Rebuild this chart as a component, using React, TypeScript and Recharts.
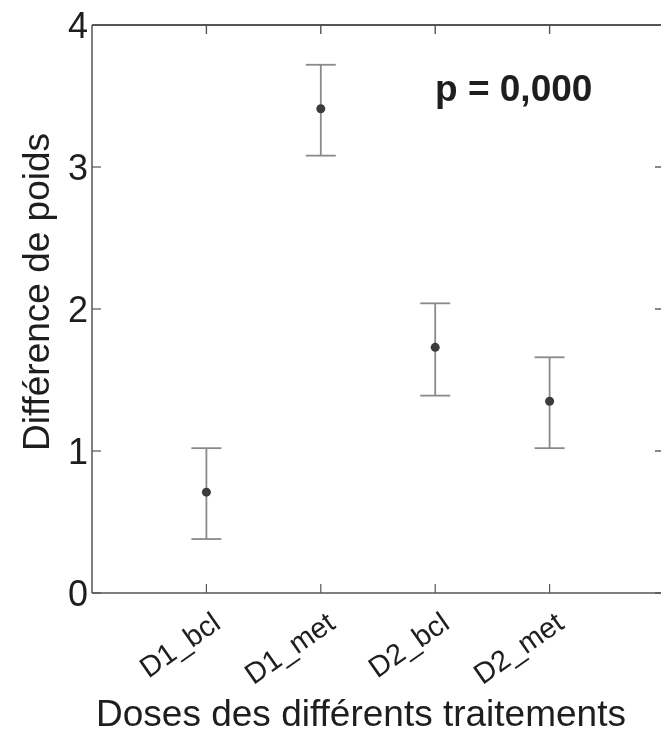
import {
  ScatterChart,
  Scatter,
  XAxis,
  YAxis,
  ErrorBar,
  ReferenceLine,
} from 'recharts';

// Doses des différents traitements
const categories = ['D1_bcl', 'D1_met', 'D2_bcl', 'D2_met'];
const means = [0.71, 3.41, 1.73, 1.35];
const lows = [0.38, 3.08, 1.39, 1.02];
const highs = [1.02, 3.72, 2.04, 1.66];
const yTicks = [0, 1, 2, 3, 4];
const xTicks = [1, 2, 3, 4];
const pLabel = 'p = 0,000';

const FONT = '"Liberation Sans", Arial, Helvetica, sans-serif';
const AXIS = '#555';
const TXT = '#1e1e1e';
const X_MAX = 5;
const Y_MAX = 4;
// inner tick lengths (about 9px) in data units
const TICK_Y = 9 / 142;
const TICK_X = 9 / 114;

const data = categories.map((c, i) => ({
  x: i + 1,
  name: c,
  y: means[i],
  err: [means[i] - lows[i], highs[i] - means[i]],
}));

function BottomTick(props: any) {
  const { x, y, payload } = props;
  const label = categories[payload.value - 1] ?? '';
  const ax = x + 16;
  const ay = y + 34;
  return (
    <g>
      <line x1={x} y1={y} x2={x} y2={y - 9} stroke={AXIS} strokeWidth={1.2} />
      <text
        x={ax}
        y={ay}
        textAnchor="end"
        fontSize={29}
        fontFamily={FONT}
        fill={TXT}
        transform={`rotate(-35, ${ax}, ${ay})`}
      >
        {label}
      </text>
    </g>
  );
}

function LeftTick(props: any) {
  const { x, y, payload } = props;
  return (
    <g>
      <line x1={x} y1={y} x2={x + 9} y2={y} stroke={AXIS} strokeWidth={1.2} />
      <text
        x={x - 4}
        y={y}
        dy="0.36em"
        textAnchor="end"
        fontSize={36}
        fontFamily={FONT}
        fill={TXT}
      >
        {payload.value}
      </text>
    </g>
  );
}

function Dot(props: any) {
  const { cx, cy } = props;
  return <circle cx={cx} cy={cy} r={4.5} fill="#3c3c3c" />;
}

export default function App() {
  return (
    <div
      style={{
        position: 'fixed',
        left: 0,
        top: 0,
        width: 661,
        height: 733,
        overflow: 'hidden',
      }}
    >
      <ScatterChart
        width={680}
        height={733}
        margin={{ top: 25, right: 16, bottom: 40, left: 32 }}
      >
        <XAxis
          type="number"
          dataKey="x"
          domain={[0, X_MAX]}
          ticks={xTicks}
          interval={0}
          height={100}
          stroke={AXIS}
          strokeWidth={1.5}
          tickLine={false}
          tickSize={0}
          tickMargin={0}
          tick={<BottomTick />}
          label={{
            content: ({ viewBox }: any) => (
              <text
                x={viewBox.x + 269}
                y={viewBox.y + 133}
                textAnchor="middle"
                fontSize={37}
                fontFamily={FONT}
                fill={TXT}
              >
                Doses des différents traitements
              </text>
            ),
          }}
        />
        <YAxis
          type="number"
          dataKey="y"
          domain={[0, Y_MAX]}
          ticks={yTicks}
          interval={0}
          width={60}
          stroke={AXIS}
          strokeWidth={1.5}
          tickLine={false}
          tickSize={0}
          tickMargin={0}
          tick={<LeftTick />}
          label={{
            content: ({ viewBox }: any) => {
              const lx = viewBox.x + 17;
              const ly = 292;
              return (
                <text
                  x={lx}
                  y={ly}
                  textAnchor="middle"
                  fontSize={37}
                  fontFamily={FONT}
                  fill={TXT}
                  transform={`rotate(-90, ${lx}, ${ly})`}
                >
                  Différence de poids
                </text>
              );
            },
          }}
        />
        {/* top frame line, carrying the p value */}
        <ReferenceLine
          y={Y_MAX}
          stroke={AXIS}
          strokeWidth={2}
          label={{
            content: ({ viewBox }: any) => (
              <text
                x={viewBox.x + 343}
                y={101}
                fontSize={37}
                fontWeight="bold"
                fontFamily={FONT}
                fill={TXT}
              >
                {pLabel}
              </text>
            ),
          }}
        />
        {/* right frame line */}
        <ReferenceLine x={X_MAX} stroke={AXIS} strokeWidth={2} />
        {/* inward ticks on the top frame */}
        {xTicks.map((t) => (
          <ReferenceLine
            key={`t${t}`}
            segment={[
              { x: t, y: Y_MAX },
              { x: t, y: Y_MAX - TICK_Y },
            ]}
            stroke={AXIS}
            strokeWidth={1.4}
          />
        ))}
        {/* inward ticks on the right frame */}
        {yTicks.map((t) => (
          <ReferenceLine
            key={`r${t}`}
            segment={[
              { x: X_MAX, y: t },
              { x: X_MAX - TICK_X, y: t },
            ]}
            stroke={AXIS}
            strokeWidth={1.4}
          />
        ))}
        <Scatter data={data} shape={<Dot />} isAnimationActive={false}>
          <ErrorBar
            dataKey="err"
            direction="y"
            width={15}
            stroke="#8a8a8a"
            strokeWidth={1.8}
            isAnimationActive={false}
          />
        </Scatter>
      </ScatterChart>
    </div>
  );
}
